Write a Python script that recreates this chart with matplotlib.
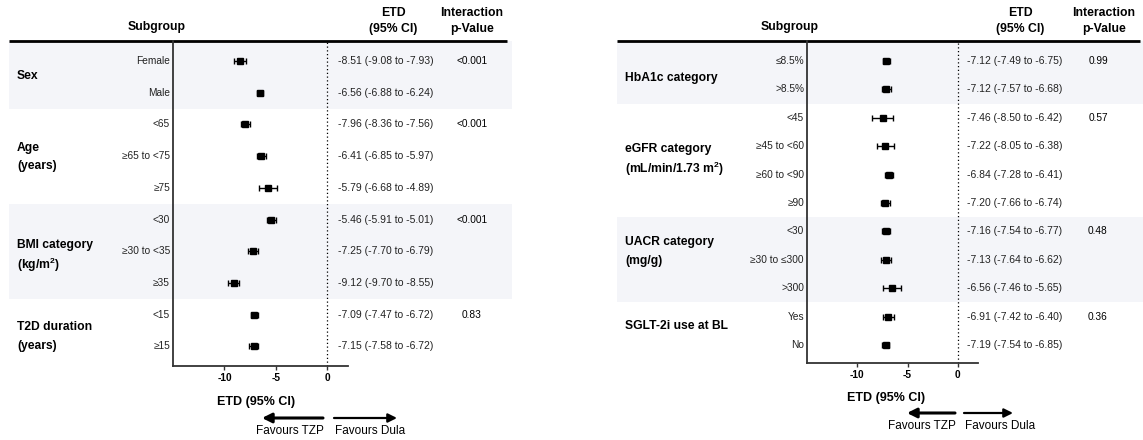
import numpy as np
import matplotlib
matplotlib.use("Agg")
import matplotlib.pyplot as plt
import matplotlib.transforms as mtransforms
from matplotlib.patches import Rectangle, FancyArrowPatch

plt.rcParams['font.family'] = ['Liberation Sans', 'DejaVu Sans']
plt.rcParams['mathtext.fontset'] = 'custom'
plt.rcParams['mathtext.rm'] = 'Liberation Sans'
plt.rcParams['mathtext.bf'] = 'Liberation Sans:bold'

# ---- left table ----
left_groups = ["Sex", "Age\n(years)", "BMI category\n(kg/m$^{\\mathbf{2}}$)", "T2D duration\n(years)"]
left_sizes = [2, 3, 3, 2]
left_subgroups = ["Female", "Male", "<65", "≥65 to <75", "≥75",
                  "<30", "≥30 to <35", "≥35", "<15", "≥15"]
left_etd = [-8.51, -6.56, -7.96, -6.41, -5.79, -5.46, -7.25, -9.12, -7.09, -7.15]
left_lo = [-9.08, -6.88, -8.36, -6.85, -6.68, -5.91, -7.70, -9.70, -7.47, -7.58]
left_hi = [-7.93, -6.24, -7.56, -5.97, -4.89, -5.01, -6.79, -8.55, -6.72, -6.72]
left_p = ["<0.001", "<0.001", "<0.001", "0.83"]

# ---- right table ----
right_groups = ["HbA1c category", "eGFR category\n(mL/min/1.73 m$^{\\mathbf{2}}$)",
                "UACR category\n(mg/g)", "SGLT-2i use at BL"]
right_sizes = [2, 4, 3, 2]
right_subgroups = ["≤8.5%", ">8.5%", "<45", "≥45 to <60", "≥60 to <90", "≥90",
                   "<30", "≥30 to ≤300", ">300", "Yes", "No"]
right_etd = [-7.12, -7.12, -7.46, -7.22, -6.84, -7.20, -7.16, -7.13, -6.56, -6.91, -7.19]
right_lo = [-7.49, -7.57, -8.50, -8.05, -7.28, -7.66, -7.54, -7.64, -7.46, -7.42, -7.54]
right_hi = [-6.75, -6.68, -6.42, -6.38, -6.41, -6.74, -6.77, -6.62, -5.65, -6.40, -6.85]
right_p = ["0.99", "0.57", "0.48", "0.36"]

W, H = 1143, 440
BAND = '#f4f5f9'

fig = plt.figure(figsize=(W / 100, H / 100), dpi=100)
bg = fig.add_axes([0, 0, 1, 1], zorder=0)
bg.set_xlim(0, W)
bg.set_ylim(H, 0)
bg.axis('off')


def fx(px):
    return px / W


def fy(py):
    return 1 - py / H


def draw_panel(groups, sizes, subs, etd, lo, hi, pvals, lay):
    n = len(subs)
    top, bottom, r0, step = lay['top'], lay['bottom'], lay['r0'], lay['step']
    x0, x1 = lay['ax_x']
    ax = fig.add_axes([fx(x0), fy(bottom), (x1 - x0) / W, (bottom - top) / H], zorder=2)
    ax.patch.set_visible(False)
    y_top = -(r0 - top) / step
    y_bot = (bottom - r0) / step
    ax.set_ylim(y_bot, y_top)
    ax.set_xlim(-15, 2)

    rows = np.arange(n)
    etd = np.array(etd)
    ax.errorbar(etd, rows, xerr=[etd - np.array(lo), np.array(hi) - etd],
                fmt='s', color='k', ms=4.8, capsize=2.5, elinewidth=1, capthick=1,
                zorder=3)
    ax.axvline(0, color='k', ls=(0, (1, 2)), lw=0.9, zorder=1)

    for s in ['top', 'right']:
        ax.spines[s].set_visible(False)
    for s in ['left', 'bottom']:
        ax.spines[s].set_color('#333333')
        ax.spines[s].set_linewidth(1.3)
    ax.set_yticks([])
    ax.set_xticks([-10, -5, 0])
    ax.set_xticklabels(['-10', '-5', '0'], fontsize=7.3, fontweight='bold')
    ax.tick_params(axis='x', length=3, width=1, color='#333333', pad=2)

    tr = mtransforms.blended_transform_factory(fig.transFigure, ax.transData)

    # shaded bands for alternate groups, group names and p-values
    start = 0
    for gi, size in enumerate(sizes):
        g0 = y_top if gi == 0 else start - 0.5
        g1 = start + size - 0.5
        if gi % 2 == 0:
            bg.add_patch(Rectangle((fx(lay['tbl'][0]), g0), fx(lay['tbl'][1] - lay['tbl'][0]),
                                   g1 - g0, transform=tr, facecolor=BAND,
                                   edgecolor='none', zorder=0))
        lines = groups[gi].split('\n')
        yc = start + (size - 1) / 2
        for li, line in enumerate(lines):
            dy = lay['grp_dy'][gi] + (li - (len(lines) - 1) / 2) * 18.5
            ttr = mtransforms.offset_copy(tr, fig=fig, y=-dy, units='dots')
            bg.text(fx(lay['grp_x']), yc, line, transform=ttr, ha='left',
                    va='center_baseline', fontsize=8.7, fontweight='bold')
        bg.text(fx(lay['p_x']), start, pvals[gi], transform=tr, ha='center',
                va='center', fontsize=7.3)
        start += size

    for i in range(n):
        bg.text(fx(lay['sub_x']), i, subs[i], transform=tr, ha='right',
                va='center', fontsize=7.3, color='#222222')
        bg.text(fx(lay['etd_x']), i, f"{etd[i]:.2f} ({lo[i]:.2f} to {hi[i]:.2f})",
                transform=tr, ha='left', va='center', fontsize=7.5, color='#222222')

    # headers
    fig.text(fx(lay['head_sub']), fy(27), "Subgroup", ha='center', va='center',
             fontsize=8.8, fontweight='bold')
    fig.text(fx(lay['head_etd']), fy(13), "ETD", ha='center', va='center',
             fontsize=8.8, fontweight='bold')
    fig.text(fx(lay['head_etd']), fy(29), "(95% CI)", ha='center', va='center',
             fontsize=8.8, fontweight='bold')
    fig.text(fx(lay['head_p']), fy(13), "Interaction", ha='center', va='center',
             fontsize=8.8, fontweight='bold')
    fig.text(fx(lay['head_p']), fy(29), "p-Value", ha='center', va='center',
             fontsize=8.8, fontweight='bold')
    bg.plot(lay['rule'], [top, top], color='k', lw=2, solid_capstyle='butt', zorder=1)

    # axis title and direction arrows
    fig.text(fx(lay['xlab'][0]), fy(lay['xlab'][1]), "ETD (95% CI)", ha='center',
             va='center', fontsize=9, fontweight='bold')
    ay, ty = lay['arrow_y'], lay['fav_y']
    a0, a1, b0, b1 = lay['arrows']
    fig.add_artist(FancyArrowPatch(
        (fx(a1), fy(ay)), (fx(a0), fy(ay)), transform=fig.transFigure,
        arrowstyle='-|>', mutation_scale=14, lw=2.2, color='k',
        shrinkA=0, shrinkB=0))
    fig.add_artist(FancyArrowPatch(
        (fx(b0), fy(ay)), (fx(b1), fy(ay)), transform=fig.transFigure,
        arrowstyle='-|>', mutation_scale=13, lw=1.6, color='k',
        shrinkA=0, shrinkB=0))
    fig.text(fx(a1 + 1), fy(ty), "Favours TZP", ha='right', va='center', fontsize=8.5)
    fig.text(fx(b0 + 1), fy(ty), "Favours Dula", ha='left', va='center', fontsize=8.5)
    return ax


left_layout = dict(top=41, bottom=366, r0=61, step=31.7, ax_x=(173, 348),
                   tbl=(9, 512), rule=(9, 507), grp_x=17, grp_dy=[-2, -0.5, 1.5, 4.5],
                   sub_x=170, etd_x=338, p_x=472, head_sub=157, head_etd=393, head_p=472,
                   xlab=(256, 402), arrow_y=418, fav_y=431,
                   arrows=(262, 323, 334, 397))
right_layout = dict(top=41, bottom=363, r0=61, step=28.4, ax_x=(807, 978),
                    tbl=(617, 1143), rule=(617, 1140), grp_x=625,
                    grp_dy=[1, -3.5, -10, -6], sub_x=804,
                    etd_x=967, p_x=1098, head_sub=790, head_etd=1020, head_p=1104,
                    xlab=(886, 398), arrow_y=413, fav_y=426,
                    arrows=(907, 955, 964, 1013))

draw_panel(left_groups, left_sizes, left_subgroups, left_etd, left_lo, left_hi,
           left_p, left_layout)
draw_panel(right_groups, right_sizes, right_subgroups, right_etd, right_lo, right_hi,
           right_p, right_layout)

fig.savefig('out.png', dpi=100)
